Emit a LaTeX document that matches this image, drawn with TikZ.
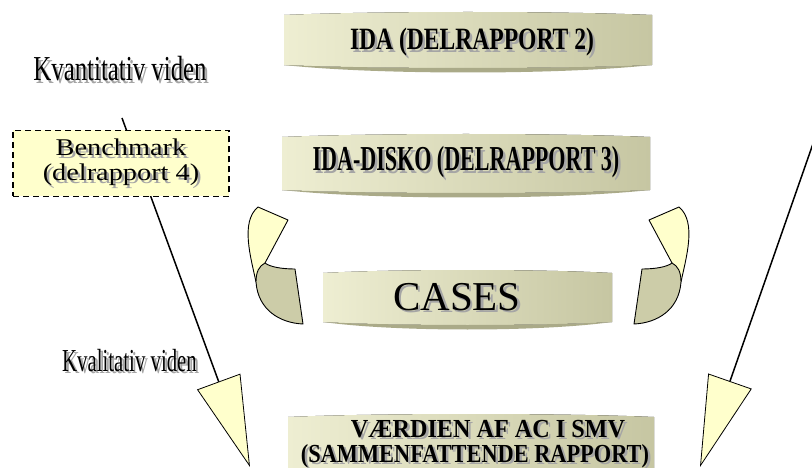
\documentclass[tikz,border=0pt]{standalone}
\usepackage{fontspec}
\setmainfont{Liberation Serif}
\usepackage{tikz}
\usetikzlibrary{arrows.meta}
\definecolor{paleyellow}{RGB}{255,255,204}
\definecolor{khaki}{RGB}{204,204,168}
\definecolor{bandlight}{RGB}{238,238,210}
\definecolor{bandmid}{RGB}{216,216,182}
\definecolor{banddark}{RGB}{198,198,162}
\definecolor{rimcol}{RGB}{170,170,136}
\definecolor{shadowgray}{RGB}{165,165,165}
\newcommand{\shd}[1]{\makebox[0pt][l]{\hspace{2.5pt}\raisebox{-2.5pt}{\color{shadowgray}#1}}#1}
\tikzset{
every picture/.style={x=1pt, y=-1pt},
bandface/.style={left color=bandlight, middle color=bandmid, right color=banddark},
bandtext/.style={inner sep=0pt, anchor=base},
viden/.style={inner sep=0pt, anchor=base},
benchbox/.style={draw, fill=paleyellow, line width=1.5pt, dash pattern=on 6pt off 4pt,
  minimum width=216pt, minimum height=66pt, inner sep=0pt, align=center},
swirl/.style={draw, line width=0.9pt, line join=round},
bigarrow/.style={line width=1.5pt,
  -{Triangle[length=91pt, width=46pt, fill=paleyellow, line width=0.8pt]}}
}

\begin{document}
\begin{tikzpicture}
  \useasboundingbox (0,0) rectangle (812,468);
  % cylinder bands
  \foreach \xa/\xb/\yt/\yb in {284/652/15/65, 282/650/137/190, 323/612/273/322, 288/654/417/500} {
    \pgfmathsetmacro{\q}{(\xb-\xa)/4}
    \fill[bandface] (\xa,\yt) .. controls (\xa+\q,\yt-4) and (\xb-\q,\yt-4) .. (\xb,\yt)
      -- (\xb,\yb) .. controls (\xb-\q,\yb+4) and (\xa+\q,\yb+4) .. (\xa,\yb) -- cycle;
    \fill[rimcol] (\xa,\yb) .. controls (\xa+\q,\yb+4) and (\xb-\q,\yb+4) .. (\xb,\yb)
      .. controls (\xb-\q,\yb+10) and (\xa+\q,\yb+10) .. (\xa,\yb) -- cycle;
  }
  \node[bandtext, font={\fontsize{31}{34}\selectfont\bfseries}] (ida) at (472,50)
    {\shd{\scalebox{0.76}[1]{IDA (DELRAPPORT 2)}}};
  \node[bandtext, font={\fontsize{35}{38}\selectfont\bfseries}] (disko) at (466,171)
    {\shd{\scalebox{0.63}[1]{IDA-DISKO (DELRAPPORT 3)}}};
  \node[bandtext, font={\fontsize{41}{44}\selectfont}] (cases) at (457,310)
    {\shd{CASES}};
  \node[bandtext, font={\fontsize{26}{25}\selectfont\bfseries}, align=center] (vaerdi) at (475,462)
    {\hspace*{26pt}\shd{\scalebox{0.93}[1]{VÆRDIEN AF AC I SMV}}\\ \shd{\scalebox{0.86}[1]{(SAMMENFATTENDE RAPPORT)}}};

  % left and right swirls
  \foreach \s/\m in {0/1, 937/-1} {
    \begin{scope}[shift={(\s,0)}, xscale=\m]
      \draw[swirl, fill=paleyellow] (258,207) -- (288,220) -- (265,263) -- (256,282)
        .. controls (251,258) and (240,222) .. (258,207) -- cycle;
      \draw[swirl, fill=khaki] (256,282) .. controls (256,272) and (259,266) .. (265,263)
        .. controls (270,267) and (282,269) .. (295,269) -- (303,324)
        .. controls (280,323) and (258,310) .. (256,282) -- cycle;
    \end{scope}
  }

  % knowledge arrows
  \coordinate (lstart) at (122,118);
  \coordinate (ltip) at (250,467);
  \coordinate (rstart) at (815,138);
  \coordinate (rtip) at (700,467);
  \draw[bigarrow] (lstart) -- (ltip);
  \draw[bigarrow] (rstart) -- (rtip);

  \node[viden, font={\fontsize{35}{38}\selectfont}] (kvant) at (120,81)
    {\shd{\scalebox{0.71}[1]{Kvantitativ viden}}};
  \node[viden, font={\fontsize{32}{35}\selectfont}] (kval) at (129.5,371)
    {\shd{\scalebox{0.65}[1]{Kvalitativ viden}}};
  \node[benchbox, font={\fontsize{24}{25}\selectfont}] (bench) at (121,163.5)
    {\shd{\scalebox{1.18}[1]{Benchmark}}\\ \shd{\scalebox{1.18}[1]{(delrapport 4)}}};
\end{tikzpicture}
\end{document}
